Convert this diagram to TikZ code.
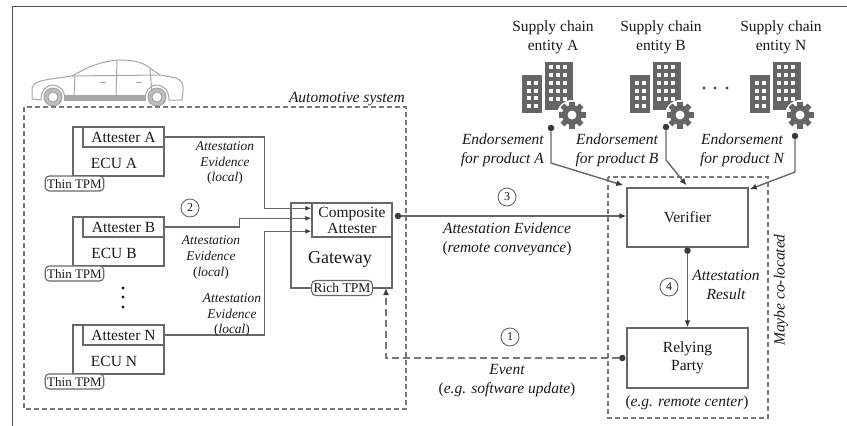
\documentclass[tikz,border=0pt]{standalone}
\usepackage{fontspec}
\setmainfont{Liberation Serif}
\usetikzlibrary{arrows.meta,calc}

\definecolor{linec}{HTML}{686868}
\definecolor{textc}{HTML}{1A1A1A}
\definecolor{dashc}{HTML}{787878}
\definecolor{iconc}{HTML}{656565}
\definecolor{carc}{HTML}{A6A6A6}
\definecolor{framec}{HTML}{505050}
\definecolor{tipc}{HTML}{3A3A3A}

\newcommand\fsz[2]{\fontsize{#1pt}{#2pt}\selectfont}
\newcommand\up[1]{\textup{#1}}

\tikzset{
  box/.style={draw=linec, line width=1.4pt, fill=white, inner sep=0pt, text=textc, font=\fsz{15.5}{17}},
  tpm/.style={draw=linec, line width=1.1pt, rounded corners=4pt, fill=white, text=textc,
              font=\fsz{13}{14}, inner xsep=2pt, inner ysep=0pt, minimum height=15pt},
  txt/.style={text=textc, font=\fsz{15.5}{19}, align=center, inner sep=0pt},
  itl/.style={text=textc, font=\itshape\fsz{15.5}{19}, align=center, inner sep=0pt},
  itsm/.style={text=textc, font=\itshape\fsz{13.4}{15.8}, align=center, inner sep=0pt},
  num/.style={circle, draw=linec, line width=0.9pt, minimum size=18pt, inner sep=0pt,
              text=textc, font=\fsz{12}{12}},
  conn/.style={draw=linec, line width=1.4pt, -{Latex[length=7pt,width=6pt,color=tipc]}},
  smallconn/.style={draw=linec, line width=1.4pt, -{Latex[length=6pt,width=5pt,color=tipc]}},
  jdot/.style={circle, fill=tipc, minimum size=6.5pt, inner sep=0pt},
  dashbox/.style={draw=dashc, line width=1.2pt, dash pattern=on 5pt off 3pt},
  evline/.style={draw=dashc, line width=1.4pt, dash pattern=on 7pt off 4pt,
                 -{Latex[length=7pt,width=6pt,color=tipc]}},
  building/.pic={
    % low block and tower
    \fill[iconc] (0,13) rectangle (20,51);
    \fill[iconc] (23,0) rectangle (51,48);
    \foreach \c in {0,1}{\foreach \r in {0,...,3}{\fill[white] (5+7*\c,19+7.5*\r) rectangle ++(4,4);}}
    \foreach \c in {0,1,2}{\foreach \r in {0,...,4}{\fill[white] (27+7*\c,3+8*\r) rectangle ++(4,4);}}
    % gear
    \fill[white] (50,53) circle[radius=15pt];
    \fill[iconc] (50,53) circle[radius=10pt];
    \foreach \a in {0,45,90,135}{\fill[iconc, shift={(50,53)}, rotate=\a] (-2.7,-13.5) rectangle (2.7,13.5);}
    \fill[white] (50,53) circle[radius=4.5pt];
  }
}

\begin{document}
\begin{tikzpicture}[x=1pt, y=-1pt]
\useasboundingbox (0,0) rectangle (847,426);

% page rule
\draw[framec, line width=1pt] (12,426) -- (12,6) -- (847,6);

% ---------- car ----------
\begin{scope}[draw=carc, line width=1pt, line join=round]
  \draw[fill=white] (32,99) -- (32,88) .. controls (33,82) and (42,80) .. (58,78) -- (72,76)
    .. controls (86,68) and (100,61) .. (120,60) .. controls (132,60) and (141,62) .. (147,66)
    -- (160,75) -- (176,78) .. controls (182,80) and (184,85) .. (183,91) -- (182,100)
    -- (169,100) .. controls (169,80) and (145,80) .. (145,100) -- (65,100)
    .. controls (65,80) and (41,80) .. (41,100) -- cycle;
  \fill[carc] (64,95) rectangle (146,101);
  \draw (72,76) -- (160,75);
  \draw (117,61) -- (116,95);
  \draw (75,76) -- (74,95);
  \draw (150,69) -- (152,94);
  \draw (100,82) -- (106,82);
  \draw (136,82) -- (142,82);
  \foreach \wx in {53,157}{
    \filldraw[fill=carc!75] (\wx,97) circle[radius=9pt];
    \filldraw[fill=white] (\wx,97) circle[radius=5pt];
  }
\end{scope}

% ---------- grouping boxes ----------
\draw[dashbox] (24,107) rectangle (406,409);
\node[itl, anchor=base east] (autolbl) at (405,102) {Automotive system};
\draw[dashbox] (608,177) rectangle (768,418);
\node[itl, rotate=90] (coloc) at (781,290) {Maybe co-located};

% ---------- ECUs ----------
\node[box, minimum width=91pt, minimum height=49pt] (ecuA) at (118.5,151.5) {};
\node[box, minimum width=81pt, minimum height=20pt] (attA) at (123.5,137) {Attester A};
\node[txt] (ecuAlbl) at (114,163) {ECU A};
\node[tpm] (tpmA) at (74.5,183.5) {Thin TPM};

\node[box, minimum width=91pt, minimum height=49pt] (ecuB) at (118.5,241.5) {};
\node[box, minimum width=81pt, minimum height=20pt] (attB) at (123.5,227) {Attester B};
\node[txt] (ecuBlbl) at (114,253) {ECU B};
\node[tpm] (tpmB) at (74.5,273.5) {Thin TPM};

\node[box, minimum width=91pt, minimum height=49pt] (ecuN) at (118.5,349.5) {};
\node[box, minimum width=81pt, minimum height=20pt] (attN) at (123.5,335) {Attester N};
\node[txt] (ecuNlbl) at (114,361) {ECU N};
\node[tpm] (tpmN) at (74.5,381.5) {Thin TPM};

\foreach \yy in {288,297,307}{\fill[textc] (123,\yy) circle[radius=1.6pt];}

% ---------- gateway ----------
\node[box, minimum width=101pt, minimum height=85pt] (gw) at (341.5,245.5) {};
\node[box, minimum width=80pt, minimum height=34pt, align=center, font=\fsz{15.5}{16}] (comp) at (352,220) {Composite\\Attester};
\node[txt, font=\fsz{18}{20}] (gwlbl) at (340,259) {Gateway};
\node[tpm, font=\fsz{13.5}{14}] (tpmG) at (342,288) {Rich TPM};

% local evidence
\coordinate (inA) at ($(comp.north west)+(0,6)$);
\coordinate (inB) at ($(comp.north west)+(0,16)$);
\coordinate (inN) at ($(comp.north west)+(0,29)$);
\draw[smallconn] (attA.east) -| ($(inA)+(-47,0)$) -- (inA);
\draw[smallconn] (attB.east) -| ($(inB)+(-72,0)$) -- (inB);
\draw[smallconn] (attN.east) -| ($(inN)+(-47,0)$) -- (inN);
\node[itsm] (lblA) at (225,163) {Attestation\\Evidence\\\up{(}local\up{)}};
\node[itsm] (lblB) at (211,257.5) {Attestation\\Evidence\\\up{(}local\up{)}};
\node[itsm] (lblN) at (232,315) {Attestation\\Evidence\\\up{(}local\up{)}};
\node[num] (n2) at (190,208) {2};

% ---------- verifier and relying party ----------
\node[box, minimum width=121pt, minimum height=59pt] (ver) at (687.5,217.5) {Verifier};
\node[box, minimum width=121pt, minimum height=60pt, align=center, font=\fsz{15.5}{18}] (rp) at (687.5,358) {Relying\\Party};
\node[itl] (rplbl) at (687,403) {\up{(}e.g. remote center\up{)}};

% remote evidence
\node[jdot] (evd) at (398,216) {};
\draw[conn] (evd) -- (evd -| ver.west);
\node[num] (n3) at (507,197) {3};
\node[itl] (lblRem) at (507,239.5) {Attestation Evidence\\\up{(}remote conveyance\up{)}};

% attestation result
\node[jdot] (vd) at ($(ver.south)+(0,3)$) {};
\draw[conn] (vd) -- (rp.north);
\node[num] (n4) at (669,287) {4};
\node[itl] (lblRes) at (726,285) {Attestation\\Result};

% event
\node[jdot] (ed) at ($(rp.west)+(-4,0)$) {};
\coordinate (gwin) at (386,288);
\draw[evline] (ed) -| (gwin);
\node[num] (n1) at (510,337) {1};
\node[itl] (lblEv) at (507,380.5) {Event\\\up{(}e.g. software update\up{)}};

% ---------- supply chain ----------
\pic at (522,62) {building};
\pic at (630,62) {building};
\pic at (750,62) {building};
\node[txt] (scA) at (553,37.5) {Supply chain\\entity A};
\node[txt] (scB) at (661,37.5) {Supply chain\\entity B};
\node[txt] (scN) at (781,37.5) {Supply chain\\entity N};
\foreach \xx in {704,715,727}{\fill[textc!80] (\xx,88) circle[radius=1.6pt];}

\node[jdot] (eA) at (551,128) {};
\node[jdot] (eB) at (666,127) {};
\node[jdot] (eN) at (795,136) {};
\draw[conn] (eA) -- ++(0,35) -- ($(ver.north west)+(-3,-2)$);
\draw[conn] (eB) -- ++(0,33) -- ($(ver.north)+(-1,-2)$);
\draw[conn] (eN) -- ++(0,36) -- ($(ver.north east)+(1,2)$);
\node[itl, align=right, anchor=east] (enA) at (544,150) {Endorsement\\for product A};
\node[itl] (enB) at (617,150) {Endorsement\\for product B};
\node[itl] (enN) at (742,150) {Endorsement\\for product N};

\end{tikzpicture}
\end{document}
